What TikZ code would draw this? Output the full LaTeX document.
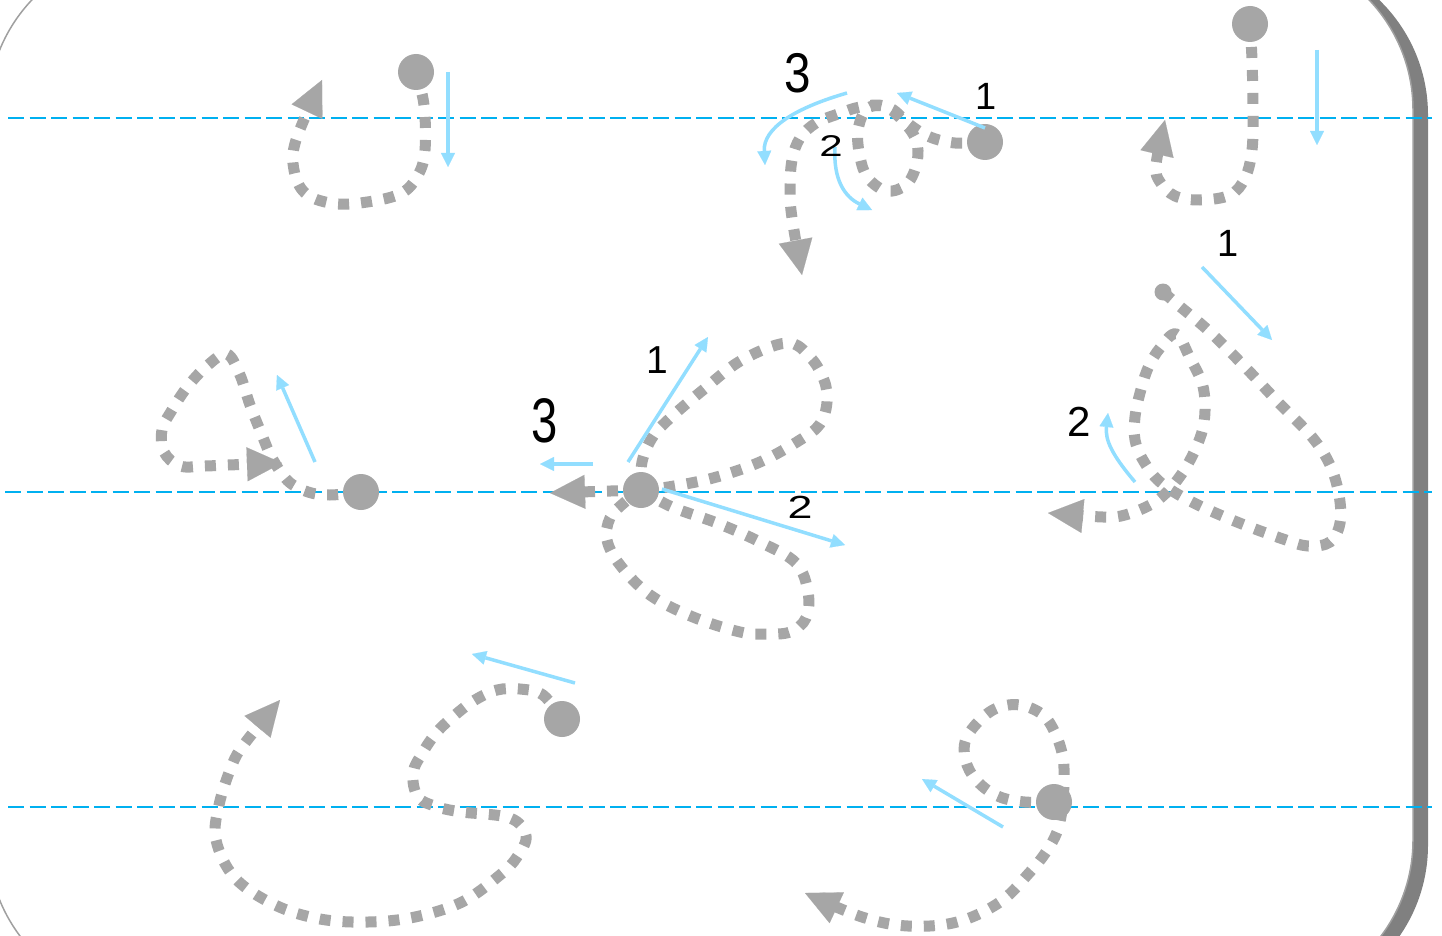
\documentclass[tikz,border=0pt]{standalone}
\usepackage{fontspec}
\setmainfont{Liberation Sans}
\usetikzlibrary{arrows.meta}
\definecolor{gcol}{RGB}{166,166,166}
\definecolor{lbc}{RGB}{146,222,255}
\definecolor{dbc}{RGB}{0,176,240}
\definecolor{framec}{RGB}{160,160,160}
\definecolor{shadc}{RGB}{128,128,128}
\pgfdeclarelayer{back}
\pgfsetlayers{back,main}
\begin{document}
\begin{tikzpicture}[x=1pt,y=-1pt,
  dot/.style={circle, fill=gcol, inner sep=0pt, minimum size=36pt},
  gpath/.style={draw=gcol, line width=11pt, dash pattern=on 11pt off 12pt},
  gtip/.style={-{Triangle[length=35pt,width=34pt,line width=0.1pt]}},
  barr/.style={draw=lbc, line width=3.5pt, -{Triangle[length=14pt,width=14pt,line width=0.1pt]}},
  guide/.style={draw=dbc, line width=2pt, dash pattern=on 16pt off 5.5pt},
  lab/.style={inner sep=0pt, text=black}]
\useasboundingbox (0,0) rectangle (1442,936);
% start dots
\node[dot] (dA) at (416,72) {};
\node[dot] (dB) at (985,142) {};
\node[dot] (dC) at (1250,24) {};
\node[dot] (dD) at (361,492) {};
\node[dot] (dE) at (641,490) {};
\node[dot, minimum size=17pt] (dF) at (1163,292) {};
\node[dot] (dG) at (562,719) {};
\node[dot] (dH) at (1054,802) {};
\begin{pgfonlayer}{back}
% frame
\fill[shadc, rounded corners=160pt] (3,-45) rectangle (1428,1005);
\filldraw[fill=white, draw=framec, line width=1.5pt, rounded corners=160pt] (-12,-50) rectangle (1413,1000);
% guide lines
\draw[guide] (8,118) -- (1432,118);
\draw[guide, line width=1.5pt] (5,492) -- (1432,492);
\draw[guide] (8,807) -- (1432,807);
% gray strokes
\draw[gpath,gtip] plot[smooth,tension=0.6] coordinates {(dA.center) (424,105) (425,150) (418,175) (400,194) (360,203) (330,203) (305,193) (294,170) (296,140) (322,80)};
\draw[gpath,gtip] plot[smooth,tension=0.6] coordinates {(dB.center) (955,143) (930,137) (910,125) (890,108) (868,108) (858,130) (860,157) (868,178) (887,191) (907,184) (917,162) (916,140) (902,120) (884,106) (860,107) (838,114) (816,123) (800,138) (792,160) (790,190) (792,218) (802,275)};
\draw[gpath,gtip] plot[smooth,tension=0.6] coordinates {(dC.center) (1252,60) (1253,110) (1252,150) (1245,178) (1230,195) (1200,200) (1175,196) (1160,182) (1156,165) (1165,120)};
\draw[gpath,gtip] plot[smooth,tension=0.6] coordinates {(dD.center) (330,495) (308,492) (288,481) (272,458) (262,435) (250,405) (240,375) (227,354) (208,365) (188,386) (172,410) (162,430) (164,452) (180,466) (205,466) (228,465) (282,463)};
\draw[gpath] plot[smooth,tension=0.6] coordinates {(dE.center) (642,462) (652,438) (668,420) (703,390) (742,360) (787,343) (810,357) (824,380) (827,402) (820,424) (800,440) (760,462) (713,478) (668,487) (dE.center)};
\draw[gpath] plot[smooth,tension=0.6] coordinates {(dE.center) (672,507) (717,523) (760,542) (796,563) (808,592) (806,618) (790,632) (765,634) (740,632) (693,617) (650,595) (620,565) (607,540) (610,518) (625,502) (dE.center)};
\draw[gpath,gtip] (dE.center) -- (550,493);
\draw[gpath,gtip] plot[smooth,tension=0.6] coordinates {(dF.center) (1177,304) (1210,332) (1245,367) (1278,402) (1312,437) (1330,465) (1339,495) (1340,523) (1330,542) (1308,546) (1283,539) (1237,522) (1192,502) (1160,482) (1143,460) (1135,440) (1135,417) (1140,393) (1148,368) (1160,348) (1176,334) (1190,358) (1202,383) (1205,405) (1203,428) (1195,450) (1183,472) (1167,492) (1150,505) (1125,515) (1103,517) (1048,513)};
\draw[gpath,gtip] plot[smooth,tension=0.6] coordinates {(dG.center) (543,695) (520,689) (497,690) (475,700) (455,715) (437,732) (423,752) (413,773) (418,797) (438,807) (462,812) (510,818) (526,836) (517,857) (500,875) (462,902) (415,917) (368,922) (320,919) (275,905) (235,878) (216,840) (219,805) (232,765) (245,743) (280,700)};
\draw[gpath,gtip] plot[smooth,tension=0.6] coordinates {(dH.center) (1025,802) (1000,797) (980,784) (967,765) (965,742) (978,722) (997,708) (1020,705) (1043,715) (1056,735) (1063,758) (1064,782) (1062,810) (1057,832) (1046,852) (1030,872) (1000,902) (957,922) (908,926) (862,917) (805,893)};
\end{pgfonlayer}
% blue direction arrows
\draw[barr] (448,72) -- (448,167);
\draw[barr] (985,128) -- (897,93);
\draw[barr] (835,147) .. controls (833,180) and (845,197) .. (872,210);
\draw[barr] (847,93) .. controls (795,108) and (763,128) .. (765,165);
\draw[barr] (1317,50) -- (1317,145);
\draw[barr] (315,462) -- (277,375);
\draw[barr] (628,462) -- (708,337);
\draw[barr] (662,489) -- (845,545);
\draw[barr] (593,464) -- (540,464);
\draw[barr] (1202,267) -- (1272,340);
\draw[barr] (1135,482) .. controls (1112,455) and (1105,440) .. (1108,413);
\draw[barr] (575,683) -- (472,654);
\draw[barr] (1003,827) -- (922,779);
% labels
\node[lab] (tB3) at (798,73) {\scalebox{0.85}[1]{\fontsize{56}{56}\selectfont 3}};
\node[lab] (tB1) at (986,96) {\fontsize{38}{38}\selectfont 1};
\node[lab, font=\fontsize{30}{30}\selectfont, xscale=1.4] (tB2) at (831,146) {2};
\node[lab] (tE1) at (657,360) {\fontsize{39}{39}\selectfont 1};
\node[lab] (tE3) at (545,421) {\scalebox{0.75}[1]{\fontsize{63}{63}\selectfont 3}};
\node[lab, font=\fontsize{32}{32}\selectfont, xscale=1.4] (tE2) at (800,507) {2};
\node[lab] (tF1) at (1228,243) {\fontsize{38}{38}\selectfont 1};
\node[lab] (tF2) at (1079,422) {\fontsize{42}{42}\selectfont 2};
\end{tikzpicture}
\end{document}
